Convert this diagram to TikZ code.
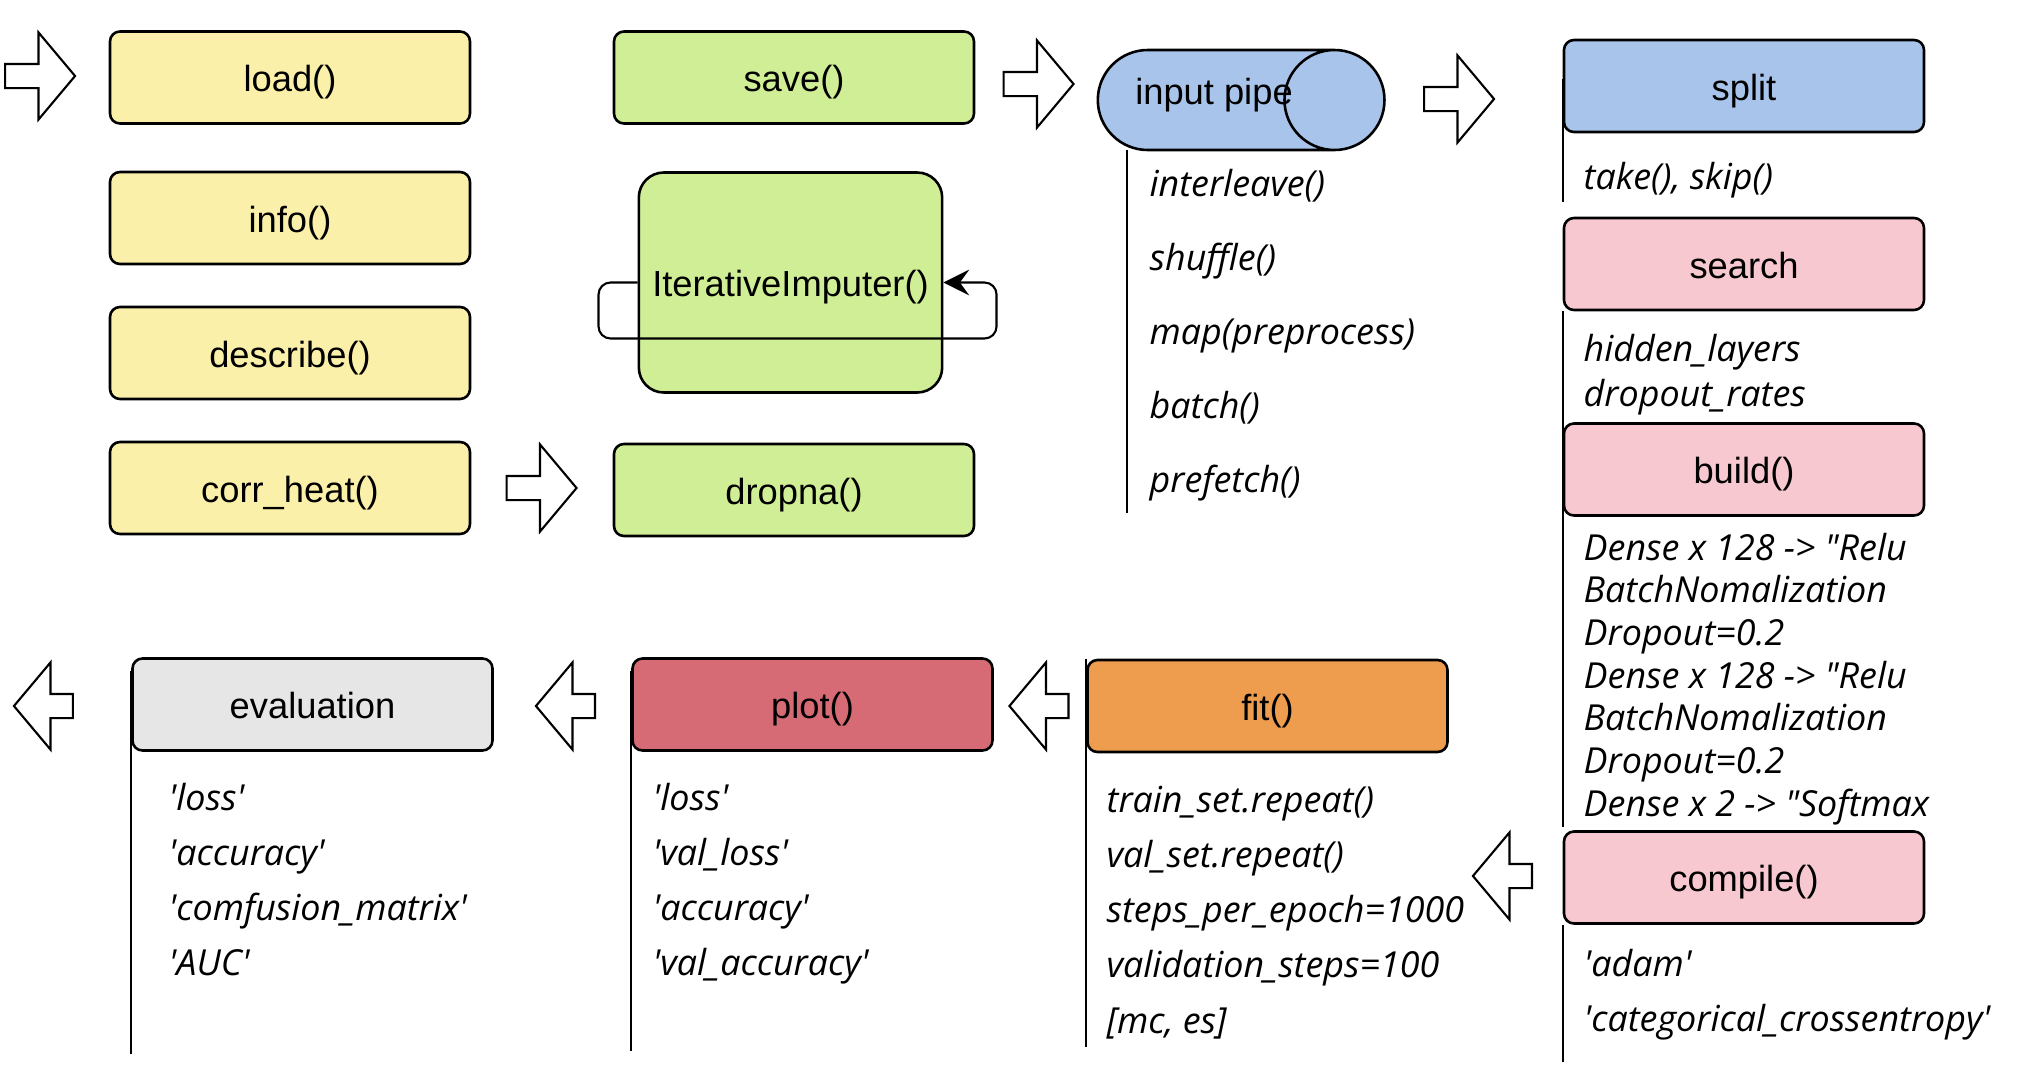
\documentclass[tikz,border=0pt]{standalone}
\usepackage{fontspec}
\setmainfont{Liberation Sans}
\newfontfamily\listfont{Open Sans}
\usetikzlibrary{positioning, shapes.arrows, shapes.geometric, calc, arrows.meta}

\definecolor{ylw}{HTML}{FBF0A9}
\definecolor{grn}{HTML}{D0EE96}
\definecolor{blu}{HTML}{A9C4EB}
\definecolor{pnk}{HTML}{F7C8D0}
\definecolor{rd}{HTML}{D66B76}
\definecolor{orng}{HTML}{EE9D4F}
\definecolor{gry}{HTML}{E6E6E6}

\newcommand\sq{\textquotesingle}

\begin{document}
\begin{tikzpicture}[x=0.015cm, y=-0.015cm, >={Stealth[length=11pt, width=11pt, inset=4pt]}, semithick,
  box/.style={draw, line width=1.1pt, rounded corners=0.15cm, minimum width=5.4cm,
    minimum height=1.38cm, text height=15.5pt, text depth=3.3pt, font=\fontsize{15.5}{18}\selectfont},
  rarr/.style={single arrow, draw, fill=white, line width=0.9pt, inner xsep=0pt,
    inner ysep=0.165cm, minimum height=1.05cm, single arrow head extend=0.4725cm,
    single arrow tip angle=100},
  larr/.style={rarr, shape border rotate=180, minimum height=0.885cm},
  vl/.style={line width=0.9pt},
  item/.style={anchor=base west, inner sep=0pt, font=\listfont\itshape\fontsize{15.3}{18}\selectfont}]

  \useasboundingbox (0,0) rectangle (2019,1081);

  \node[box, fill=ylw] (load) at (290,77.5) {load()};
  \node[box, fill=ylw] (info) at (290,218) {info()};
  \node[box, fill=ylw] (desc) at (290,353) {describe()};
  \node[box, fill=ylw] (corr) at (290,488) {corr\_heat()};

  \node[box, fill=grn] (save) at (794,77.5) {save()};
  \node[box, fill=grn, minimum width=4.55cm, minimum height=3.3cm, rounded corners=0.375cm] (imp) at (790.5,282.5) {IterativeImputer()};
  \node[box, fill=grn] (drop) at (794,490) {dropna()};

  \node[cylinder, draw, fill=blu, line width=1.1pt, inner xsep=0pt, inner ysep=0.75cm,
    minimum height=4.3cm, minimum width=1.5cm, shape aspect=1] (pipe) at (1190.5,100) {};
  \node[font=\fontsize{15.5}{18}\selectfont] (pipetxt) at (1214,95) {input pipe};

  \node[box, fill=blu] (split) at (1744,86) {split};
  \node[box, fill=pnk] (search) at (1744,264) {search};
  \node[box, fill=pnk] (build) at (1744,469.5) {build()};
  \node[box, fill=pnk] (compile) at (1744,877.5) {compile()};

  \node[box, fill=orng] (fit) at (1267.5,706) {fit()};
  \node[box, fill=rd] (plot) at (812.5,704.5) {plot()};
  \node[box, fill=gry] (eval) at (312.5,704.5) {evaluation};

  \node[rarr] (a0) at (35,76) {};
  \node[rarr] (a1) at (536.5,488) {};
  \node[rarr] (a2) at (1033.5,84) {};
  \node[rarr] (a3) at (1454,99) {};
  \node[larr] (b0) at (48.5,706) {};
  \node[larr] (b1) at (570.5,706) {};
  \node[larr] (b2) at (1044,706) {};
  \node[larr] (b3) at (1507.5,876) {};

  \draw[->, line width=0.9pt, rounded corners=0.18cm] (imp.west) -- ++(-39,0) |- ++(398,56) |- (imp.east);

  \coordinate (pipetop) at (1127,150);
  \draw[vl] (pipetop) -- ++(0,363);
  \draw[vl] ([yshift=-0.6cm]split.north west) -- ++(0,123);
  \draw[vl] (search.south west) -- ++(0,516);
  \draw[vl] (compile.south west) -- ++(0,137);
  \draw[vl] (fit.north west) -- ++(0,388);
  \draw[vl] ([yshift=-0.2cm]plot.north west) -- ++(0,380);
  \draw[vl] ([yshift=-0.2cm]eval.north west) -- ++(0,383);

  \foreach \t [count=\i from 0] in {interleave(), shuffle(), map(preprocess), batch(), prefetch()}
    \node[item] (pipe\i) at (1149,196+74*\i) {\t};
  \node[item] (split0) at (1583,189) {take(), skip()};
  \foreach \t [count=\i from 0] in {hidden\_layers, dropout\_rates}
    \node[item] (search\i) at (1583,361+45*\i) {\t};
  \foreach \t [count=\i from 0] in {Dense x 128 -> "Relu, BatchNomalization, Dropout=0.2,
      Dense x 128 -> "Relu, BatchNomalization, Dropout=0.2, Dense x 2 -> "Softmax}
    \node[item] (build\i) at (1583,560+42.7*\i) {\t};
  \foreach \t [count=\i from 0] in {\sq adam\sq, \sq categorical\_crossentropy\sq}
    \node[item] (compile\i) at (1583,976+55*\i) {\t};
  \foreach \t [count=\i from 0] in {train\_set.repeat(), val\_set.repeat(), steps\_per\_epoch=1000,
      validation\_steps=100, {[mc, es]}}
    \node[item] (fit\i) at (1106,812+55.3*\i) {\t};
  \foreach \t [count=\i from 0] in {\sq loss\sq, \sq val\_loss\sq, \sq accuracy\sq, \sq val\_accuracy\sq}
    \node[item] (plot\i) at (652,810+55.3*\i) {\t};
  \foreach \t [count=\i from 0] in {\sq loss\sq, \sq accuracy\sq, \sq comfusion\_matrix\sq, \sq AUC\sq}
    \node[item] (eval\i) at (168,810+55.3*\i) {\t};
\end{tikzpicture}
\end{document}
